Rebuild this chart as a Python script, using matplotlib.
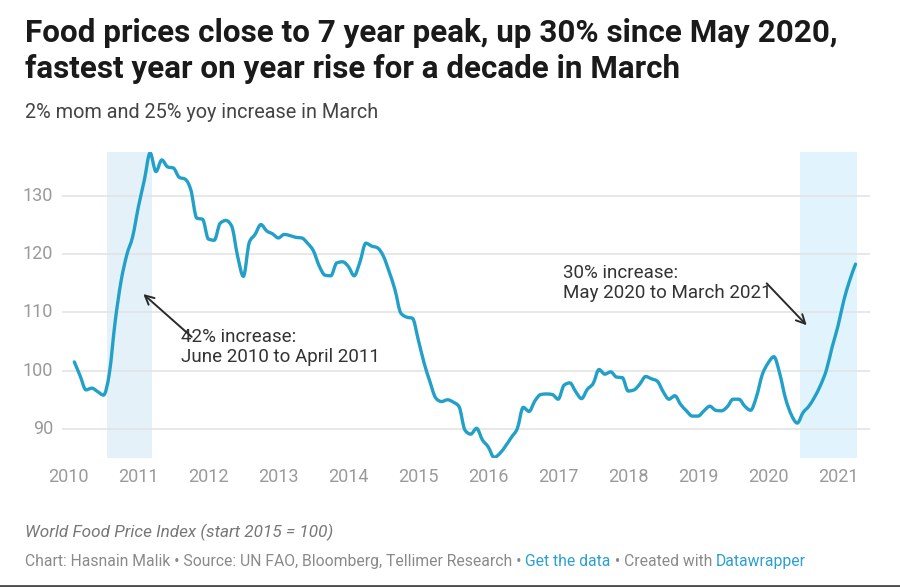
import matplotlib
matplotlib.use("Agg")
import matplotlib.pyplot as plt
from matplotlib.path import Path
from matplotlib.patches import PathPatch
import numpy as np

plt.rcParams['font.family'] = ['Roboto', 'DejaVu Sans']

# ---- data: World Food Price Index (start 2015 = 100), monthly Jan 2010 - Mar 2021
start_year = 2010
values = [
    101.5, 99.1, 96.7, 97.0, 96.4, 95.8, 99.5, 108.4, 115.3, 119.9, 123.0, 128.2,   # 2010
    132.7, 137.4, 134.2, 136.2, 135.0, 134.8, 133.2, 132.9, 131.0, 126.2, 126.0, 122.6,  # 2011
    122.4, 125.3, 125.8, 124.8, 119.7, 116.2, 122.0, 123.4, 125.1, 124.0, 123.5, 122.8,  # 2012
    123.4, 123.2, 122.9, 122.8, 121.9, 120.6, 118.0, 116.4, 116.3, 118.5, 118.7, 117.9,  # 2013
    116.3, 118.7, 121.9, 121.4, 121.1, 119.7, 117.0, 113.9, 109.9, 109.2, 109.0, 105.3,  # 2014
    101.3, 98.1, 95.3, 94.7, 95.0, 94.6, 93.8, 89.8, 89.1, 90.1, 88.1, 86.9,            # 2015
    85.1, 85.8, 87.1, 88.6, 90.1, 93.7, 93.0, 94.8, 95.9, 96.0, 95.9, 95.1,             # 2016
    97.5, 97.9, 96.4, 95.2, 96.8, 97.8, 100.2, 99.4, 99.8, 98.9, 98.8, 96.5,            # 2017
    96.7, 97.7, 99.0, 98.6, 98.2, 96.4, 95.1, 95.7, 94.2, 93.1, 92.2, 92.2,             # 2018
    93.1, 93.9, 93.2, 93.1, 93.8, 95.1, 95.1, 93.9, 93.2, 95.5, 99.3, 101.3,            # 2019
    102.4, 99.5, 95.2, 92.4, 91.0, 92.8, 93.9, 95.5, 97.5, 100.1, 104.1, 107.7,         # 2020
    112.1, 115.5, 118.3,                                                                # 2021
]
# month-end positions in decimal years
dates = [start_year + (i + 1) / 12 for i in range(len(values))]

year_ticks = list(range(2010, 2022))
y_ticks = [90, 100, 110, 120, 130]

# highlighted periods (decimal years)
highlight_1 = (2010.55, 2011.19)
highlight_2 = (2020.456, 2021.27)

annot_1_text = "42% increase:\nJune 2010 to April 2011"
annot_2_text = "30% increase:\nMay 2020 to March 2021"

W, H = 900, 587
fig = plt.figure(figsize=(W / 100, H / 100), dpi=100)
fig.patch.set_facecolor('white')


def fx(px):
    return px / W


def fy(py):
    return 1 - py / H


ax_left, ax_right, ax_top, ax_bottom = 62, 870, 152, 458
ax = fig.add_axes([fx(ax_left), fy(ax_bottom), (ax_right - ax_left) / W, (ax_bottom - ax_top) / H])
ax.set_xlim(2009.907, 2021.457)
ax.set_ylim(85.0, 137.56)

for s in ax.spines.values():
    s.set_visible(False)

ax.axvspan(*highlight_1, color='#e4f1f9', zorder=0, lw=0)
ax.axvspan(*highlight_2, color='#e1f4fd', zorder=0, lw=0)

for yv in y_ticks:
    ax.axhline(yv, color='#e2e2e2', lw=1.1, zorder=1)


def monotone_path(xs, ys):
    """Bezier path through the points with monotone-x tangents (like d3 curveMonotoneX)."""
    xs = np.asarray(xs, float)
    ys = np.asarray(ys, float)
    n = len(xs)
    h = np.diff(xs)
    s = np.diff(ys) / h
    t = np.zeros(n)
    for i in range(1, n - 1):
        s0, s1 = s[i - 1], s[i]
        p = (s0 * h[i] + s1 * h[i - 1]) / (h[i - 1] + h[i])
        t[i] = (np.sign(s0) + np.sign(s1)) * min(abs(s0), abs(s1), 0.5 * abs(p))
    t[0] = (3 * s[0] - t[1]) / 2
    t[-1] = (3 * s[-1] - t[-2]) / 2
    verts = [(xs[0], ys[0])]
    codes = [Path.MOVETO]
    for i in range(n - 1):
        dx = h[i] / 3
        verts += [(xs[i] + dx, ys[i] + dx * t[i]),
                  (xs[i + 1] - dx, ys[i + 1] - dx * t[i + 1]),
                  (xs[i + 1], ys[i + 1])]
        codes += [Path.CURVE4] * 3
    return Path(verts, codes)


ax.add_patch(PathPatch(monotone_path(dates, values), facecolor='none',
                       edgecolor='#22a0c8', lw=2.4, zorder=3,
                       joinstyle='round', capstyle='round'))

ax.set_yticks(y_ticks)
ax.set_yticklabels([str(v) for v in y_ticks])
ax.set_xticks(year_ticks)
ax.set_xticklabels([str(v) for v in year_ticks])
ax.tick_params(axis='both', length=0, labelsize=13, labelcolor='#9a9a9a')
ax.tick_params(axis='y', pad=6.5)
ax.tick_params(axis='x', pad=7)
for lab in ax.get_yticklabels():
    lab.set_verticalalignment('center')

# annotations
ax.text(2011.608, 107.3, annot_1_text, fontsize=13.5, color='#333333',
        va='top', ha='left', linespacing=1.15, zorder=4)
ax.annotate('', xy=(2011.069, 113.16), xytext=(2011.761, 105.8),
            arrowprops=dict(arrowstyle='->', color='#2a2a2a', lw=1.4,
                            mutation_scale=16, shrinkA=0, shrinkB=0), zorder=5)

ax.text(2017.07, 118.3, annot_2_text, fontsize=13.5, color='#333333',
        va='top', ha='left', linespacing=1.15, zorder=4)
ax.annotate('', xy=(2020.552, 107.8), xytext=(2019.98, 115.0),
            arrowprops=dict(arrowstyle='->', color='#2a2a2a', lw=1.4,
                            mutation_scale=16, shrinkA=0, shrinkB=0), zorder=5)

# titles
fig.text(fx(25), fy(42), "Food prices close to 7 year peak, up 30% since May 2020,",
         fontsize=22.6, fontweight='bold', color='#1a1a1a', va='baseline', ha='left')
fig.text(fx(25), fy(78), "fastest year on year rise for a decade in March",
         fontsize=22.6, fontweight='bold', color='#1a1a1a', va='baseline', ha='left')
fig.text(fx(25), fy(118), "2% mom and 25% yoy increase in March",
         fontsize=14.3, color='#444444', va='baseline', ha='left')

# footer
fig.text(fx(25), fy(537), "World Food Price Index (start 2015 = 100)",
         fontsize=12.3, style='italic', color='#777777', va='baseline', ha='left')

parts = [("Chart: Hasnain Malik \u2022 Source: UN FAO, Bloomberg, Tellimer Research \u2022 ", '#8a8a8a'),
         ("Get the data", '#2a9fd0'),
         (" \u2022 Created with ", '#8a8a8a'),
         ("Datawrapper", '#2a9fd0')]
fig.canvas.draw()
renderer = fig.canvas.get_renderer()
xcur = 25
for txt, col in parts:
    t = fig.text(fx(xcur), fy(566), txt, fontsize=11.3, color=col, va='baseline', ha='left')
    bb = t.get_window_extent(renderer=renderer)
    xcur += bb.width

# bottom dark bar
fig.add_artist(plt.Line2D([0, 1], [fy(585.5), fy(585.5)], transform=fig.transFigure,
                          color='#4a4a4a', lw=2))

fig.savefig('out.png', dpi=100, facecolor='white')
